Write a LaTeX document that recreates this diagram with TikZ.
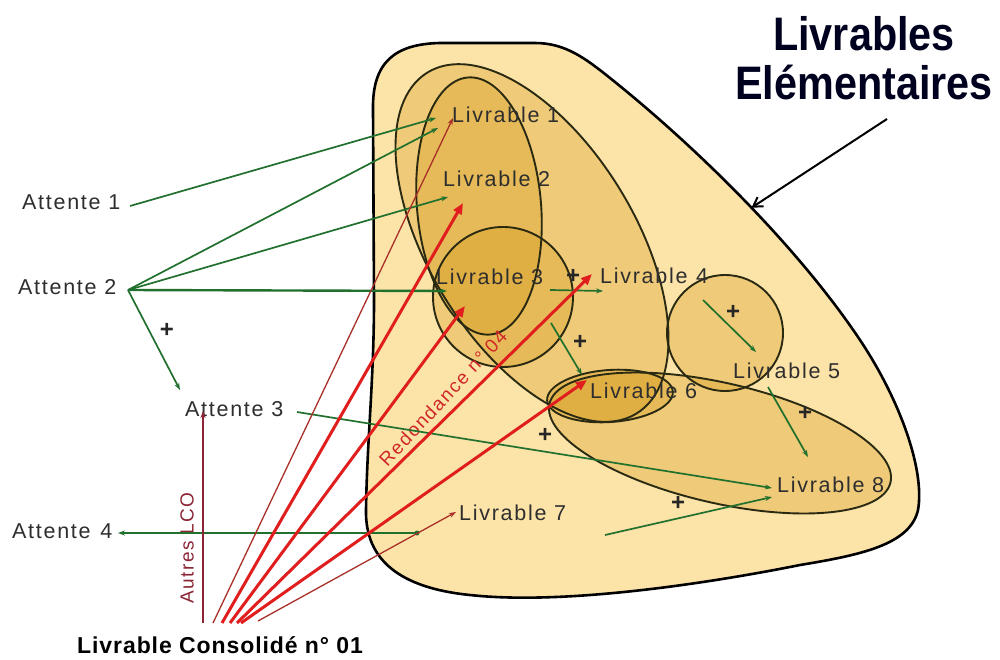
\documentclass[tikz,border=0pt]{standalone}
\usepackage{fontspec}
\setmainfont{Liberation Sans}
\newfontfamily\labfont[LetterSpace=8]{Liberation Sans}
\newfontfamily\consfont[LetterSpace=4]{Liberation Sans}
\usetikzlibrary{arrows.meta}
\definecolor{blob}{HTML}{FCE4A9}
\definecolor{gold}{HTML}{D89E22}
\definecolor{grn}{HTML}{22702E}
\definecolor{rd}{HTML}{E01E1E}
\definecolor{drd}{HTML}{A83028}
\definecolor{brd}{HTML}{8B2535}
\definecolor{txt}{HTML}{2E2E2E}
\definecolor{edge}{HTML}{2A2A12}
\begin{document}
\begin{tikzpicture}[x=1pt,y=-1pt,
  lab/.style={font=\labfont\fontsize{21.5}{24}\selectfont, text=txt, inner sep=0pt, anchor=base west},
  zonefill/.style={fill=gold, fill opacity=0.36},
  zoneline/.style={draw=edge, line width=1.9pt},
  garrow/.style={draw=grn, line width=1.7pt, -{Stealth[length=7pt,width=5pt]}},
  rthick/.style={draw=rd, line width=3pt, -{Triangle[length=11pt,width=9pt]}},
  rthin/.style={draw=drd, line width=1.3pt, -{Stealth[length=7pt,width=5pt]}},
  plussign/.style={font=\bfseries\fontsize{24}{24}\selectfont, inner sep=0pt, text=black!85},
]
\useasboundingbox (0,0) rectangle (1000,660);
\fill[white] (0,0) rectangle (1000,660);

% outer blob
\path[fill=blob] (374,300) -- (373,110) .. controls (372,62) and (395,44) .. (440,43) -- (535,43)
  .. controls (565,43) and (585,58) .. (610,78)
  .. controls (700,150) and (800,250) .. coordinate[pos=0.52] (bt) (860,340)
  .. controls (900,400) and (925,470) .. (918,510)
  .. controls (910,545) and (860,555) .. (800,565)
  .. controls (700,585) and (560,605) .. (470,595)
  .. controls (400,588) and (365,560) .. (366,510)
  .. controls (367,440) and (374,380) .. (374,300) -- cycle;

% zone fills
\path[zonefill, rotate around={-58.5:(532,243)}] (532,243) ellipse [x radius=200, y radius=103];
\path[zonefill, rotate around={5:(479,206)}] (479,206) ellipse [x radius=62, y radius=129];
\path[zonefill] (503,297) circle [radius=70];
\path[zonefill] (725,333) circle [radius=58];
\path[zonefill, rotate around={-13:(720,443)}] (720,443) ellipse [x radius=175, y radius=60];
\path[zonefill, rotate around={4:(610,396)}] (610,396) ellipse [x radius=63, y radius=26];

% outlines
\draw[black, line width=2.6pt] (374,300) -- (373,110) .. controls (372,62) and (395,44) .. (440,43) -- (535,43)
  .. controls (565,43) and (585,58) .. (610,78)
  .. controls (700,150) and (800,250) .. (860,340)
  .. controls (900,400) and (925,470) .. (918,510)
  .. controls (910,545) and (860,555) .. (800,565)
  .. controls (700,585) and (560,605) .. (470,595)
  .. controls (400,588) and (365,560) .. (366,510)
  .. controls (367,440) and (374,380) .. (374,300) -- cycle;
\draw[zoneline, rotate around={-58.5:(532,243)}] (532,243) ellipse [x radius=200, y radius=103];
\draw[zoneline, rotate around={5:(479,206)}] (479,206) ellipse [x radius=62, y radius=129];
\draw[zoneline] (503,297) circle [radius=70];
\draw[zoneline] (725,333) circle [radius=58];
\draw[zoneline, rotate around={-13:(720,443)}] (720,443) ellipse [x radius=175, y radius=60];
\draw[zoneline, rotate around={4:(610,396)}] (610,396) ellipse [x radius=63, y radius=26];

% labels
\node[lab] (a1) at (22,210) {Attente 1};
\node[lab] (a2) at (18,294) {Attente 2};
\node[lab] (a3) at (185,416) {Attente 3};
\node[lab] (a4) at (12,538) {Attente\hspace{0.45em}4};
\node[lab] (l1) at (452,123) {Livrable 1};
\node[lab] (l2) at (443,187) {Livrable 2};
\node[lab] (l3) at (436,284) {Livrable 3};
\node[lab] (l4) at (600,283) {Livrable\hspace{0.4em}4};
\node[lab] (l5) at (733,378) {Livrable 5};
\node[lab] (l6) at (590,398) {Livrable 6};
\node[lab] (l7) at (459,520) {Livrable 7};
\node[lab] (l8) at (777,492) {Livrable 8};
\node[font=\consfont\bfseries\fontsize{23}{26}\selectfont, inner sep=0pt, anchor=base west, text=black] (lc) at (77,653) {Livrable Consolidé n° 01};
\node[font=\bfseries\fontsize{47}{50}\selectfont, inner sep=0pt, anchor=base, text=black!88!blue] (t1) at (864,51) {\scalebox{0.88}[1]{Livrables}};
\node[font=\bfseries\fontsize{47}{50}\selectfont, inner sep=0pt, anchor=base, text=black!88!blue] (t2) at (864,100) {\scalebox{0.88}[1]{Elémentaires}};
\node[font=\labfont\fontsize{19}{22}\selectfont, text={rgb,255:red,208;green,40;blue,40}, rotate=47, inner sep=0pt] (red) at (443,398) {Redondance n° 04};
\node[font=\labfont\fontsize{19}{22}\selectfont, text=brd, rotate=90, inner sep=0pt] (autres) at (187,548) {Autres LCO};

% anchor points
\coordinate (a1e) at (130,206);
\coordinate (a2e) at (128,290);
\coordinate (a3e) at (297,412);
\coordinate (a3n) at (180,390);
\coordinate (a4e) at (118,533);
\coordinate (l7d) at (417,533);
\coordinate (l1g) at (436,118);
\coordinate (l1h) at (438,128);
\coordinate (l2g) at (448,197);
\coordinate (l3g) at (447,291);
\coordinate (l8g) at (772,488);
\coordinate (l8h) at (772,497);
\coordinate (l3r) at (550,290);
\coordinate (l4g) at (603,291);
\coordinate (l3b) at (551,323);
\coordinate (l6g) at (582,375);
\coordinate (l4b) at (703,300);
\coordinate (l5g) at (756,352);
\coordinate (l5b) at (768,387);
\coordinate (l8t) at (808,457);
\coordinate (s7) at (605,535);
\coordinate (o0) at (203,623);
\coordinate (o1) at (213,623);
\coordinate (o2) at (222,623);
\coordinate (o3) at (230,623);
\coordinate (o4) at (237,623);
\coordinate (o5) at (241,623);
\coordinate (o6) at (258,621);
\coordinate (r1) at (453,118);
\coordinate (r2) at (463,203);
\coordinate (r3) at (465,306);
\coordinate (r4) at (592,274);
\coordinate (r6) at (587,380);
\coordinate (r7) at (456,512);
\coordinate (ra) at (203,411);
\coordinate (ts) at (887,119);

% green connectors
\draw[garrow] (a1e) -- (l1g);
\draw[garrow] (a2e) -- (l1h);
\draw[garrow] (a2e) -- (l2g);
\draw[garrow, line width=2.4pt] (a2e) -- (l3g);
\draw[garrow] (a2e) -- (a3n);
\draw[garrow] (a3e) -- (l8g);
\draw[garrow] (l7d) -- (a4e);
\fill[grn] (l7d) circle [radius=2.5];
\draw[garrow] (l3r) -- (l4g);
\draw[garrow] (l3b) -- (l6g);
\draw[garrow] (l4b) -- (l5g);
\draw[garrow] (l5b) -- (l8t);
\draw[garrow] (s7) -- (l8h);

% red connectors
\draw[draw=brd, line width=1.3pt, -{Stealth[length=7pt,width=5pt]}] (o0) -- (ra);
\draw[rthin] (o1) -- (r1);
\draw[rthick] (o2) -- (r2);
\draw[rthick] (o3) -- (r3);
\draw[rthick] (o4) -- (r4);
\draw[rthick] (o5) -- (r6);
\draw[rthin] (o6) -- (r7);

% title arrow
\draw[black, line width=2pt, -{Straight Barb[length=9pt,width=11pt]}] (ts) -- (bt);

% plus signs
\node[plussign] (p1) at (167,330) {+};
\node[plussign] (p2) at (573,276) {+};
\node[plussign] (p3) at (580,342) {+};
\node[plussign] (p4) at (733,312) {+};
\node[plussign] (p5) at (805,413) {+};
\node[plussign] (p6) at (545,435) {+};
\node[plussign] (p7) at (678,503) {+};
\end{tikzpicture}
\end{document}
